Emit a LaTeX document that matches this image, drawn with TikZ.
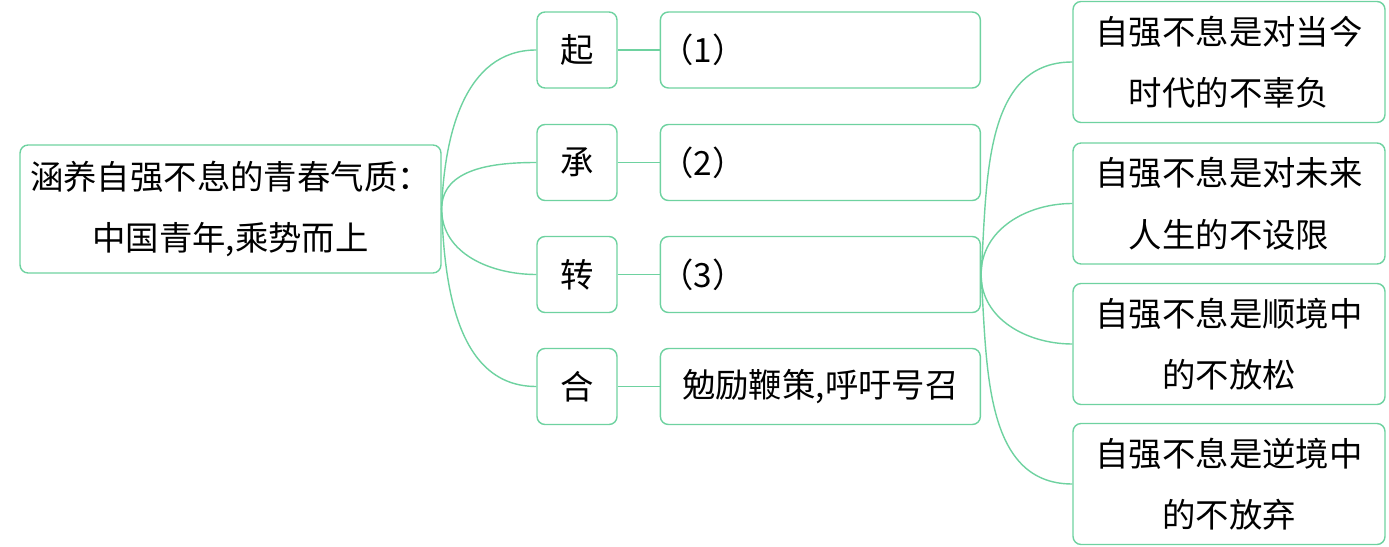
\documentclass[tikz,border=0pt]{standalone}
\usepackage{fontspec}
\setmainfont{Noto Sans CJK SC}
\usepackage{xcolor}
\usetikzlibrary{positioning}
\definecolor{mint}{RGB}{110,210,160}

\begin{document}
\begin{tikzpicture}[x=0.02cm,y=-0.02cm,node distance=0.84cm]
  \tikzstyle{box}=[draw=mint,line width=0.8pt,rounded corners=0.16cm,align=center,font=\fontsize{19}{35}\selectfont,inner sep=0pt]
  \tikzstyle{key}=[box,minimum width=1.6cm,minimum height=1.52cm]
  \tikzstyle{blank}=[box,minimum height=1.52cm,text width=6.4cm,align=left]
  \tikzstyle{leaf}=[box,minimum width=6.24cm,minimum height=2.42cm]
  \tikzstyle{link}=[draw=mint,line width=0.8pt]
  \useasboundingbox (0,0) rectangle (1389,547);
  \node[box,minimum width=8.42cm,minimum height=2.56cm] (root) at (230.5,209) {涵养自强不息的青春气质：\\中国青年,乘势而上};
  % 起承转合
  \node[key] (qi) at (577,50) {起};
  \node[key] (cheng) at (577,162.5) {承};
  \node[key] (zhuan) at (577,274.5) {转};
  \node[key] (he) at (577,386.5) {合};
  \node[blank,right=of qi] (b1) {（1）};
  \node[blank,right=of cheng] (b2) {（2）};
  \node[blank,right=of zhuan] (b3) {（3）};
  \node[blank,align=center,right=of he] (b4) {勉励鞭策,呼吁号召};
  % 自强不息
  \node[leaf] (l1) at (1229,62) {自强不息是对当今\\时代的不辜负};
  \node[leaf] (l2) at (1229,203.5) {自强不息是对未来\\人生的不设限};
  \node[leaf] (l3) at (1229,344) {自强不息是顺境中\\的不放松};
  \node[leaf] (l4) at (1229,484) {自强不息是逆境中\\的不放弃};
  \draw[link] (root.east) to[out=88,in=180] (qi.west);
  \draw[link] (root.east) to[out=90,in=180] (cheng.west);
  \draw[link] (root.east) to[out=-90,in=180] (zhuan.west);
  \draw[link] (root.east) to[out=-88,in=180] (he.west);
  \draw[link] (qi) -- (b1);
  \draw[link] (cheng) -- (b2);
  \draw[link] (zhuan) -- (b3);
  \draw[link] (he) -- (b4);
  \draw[link] (b3.east) to[out=86,in=180] (l1.west);
  \draw[link] (b3.east) to[out=90,in=180] (l2.west);
  \draw[link] (b3.east) to[out=-90,in=180] (l3.west);
  \draw[link] (b3.east) to[out=-86,in=180] (l4.west);
\end{tikzpicture}
\end{document}
